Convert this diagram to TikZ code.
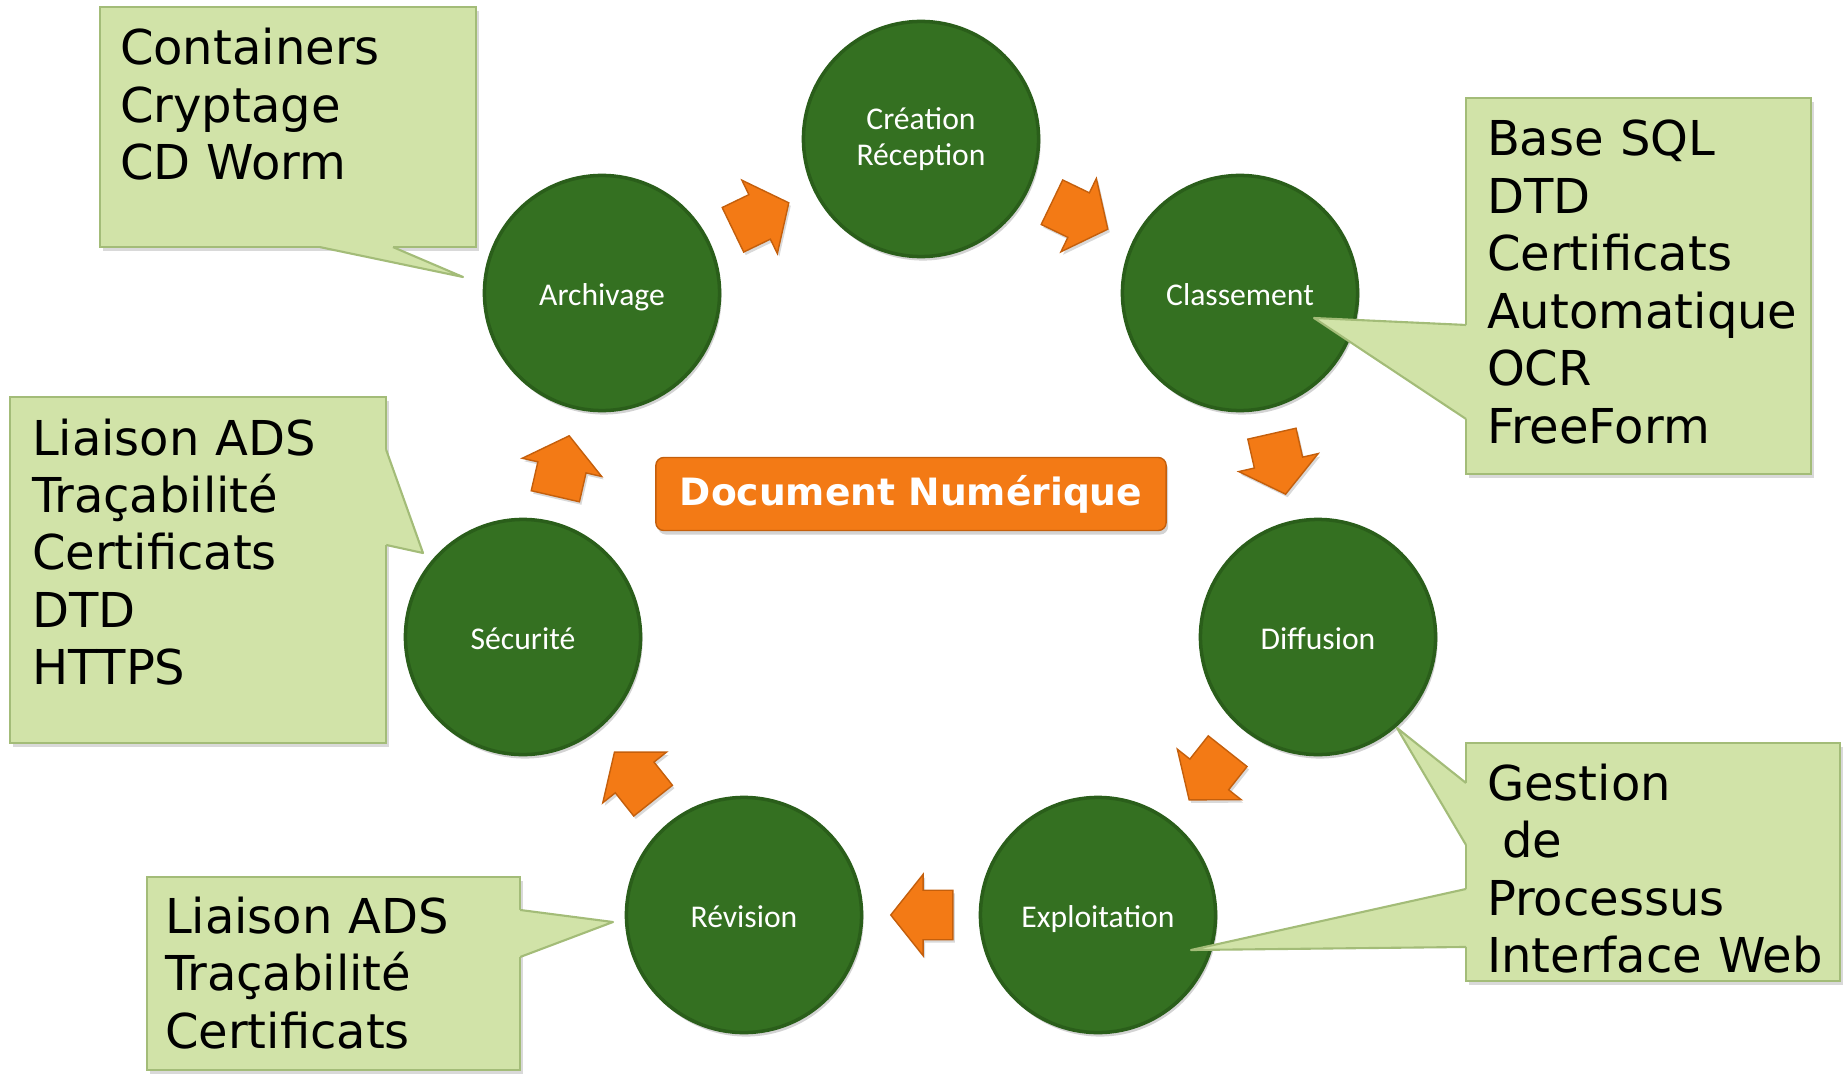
\documentclass[tikz,border=0pt]{standalone}
\usepackage{fontspec}
\setmainfont{DejaVu Sans}
\newfontfamily\Calib{Carlito}
\usepackage{tikz}
\usetikzlibrary{shapes,arrows,fit,positioning,shadows,calc}
\definecolor{leaf}{HTML}{347021}
\definecolor{leafrim}{HTML}{2A5E1A}
\definecolor{note}{HTML}{D1E3A8}
\definecolor{noterim}{HTML}{A3BC78}
\definecolor{orng}{HTML}{F37A15}
\definecolor{orngrim}{HTML}{C45F0C}
\hfuzz=40pt

\begin{document}
\begin{tikzpicture}[% one unit = one pixel of the sketch, y runs downwards
			x=0.01cm,y=-0.01cm,
			stage/.style={circle,fill=leaf,draw=leafrim,line width=1pt,
				minimum size=2.35cm,inner sep=0pt,
				text=white,align=center,		% so that "\\" breaks the line
				text height=0.32cm,text depth=0.08cm,
				font=\Calib\fontsize{9pt}{10.4pt}\selectfont,
				drop shadow={shadow xshift=0.02cm,shadow yshift=-0.04cm,opacity=.35}},
			flow/.style={single arrow,fill=orng,draw=orngrim,line width=0.4pt,
				minimum height=0.62cm,inner xsep=0pt,inner ysep=0.24cm,
				single arrow head extend=0.16cm,single arrow tip angle=103,
				sloped,allow upside down,		% keep the tip on the way round
				pos=0.77,anchor=tip,
				drop shadow={shadow xshift=0.02cm,shadow yshift=-0.03cm,opacity=.3}},
			title/.style={rectangle,rounded corners=0.08cm,fill=orng,draw=orngrim,
				minimum width=5.1cm,minimum height=0.73cm,text=white,
				font=\bfseries\fontsize{10.7pt}{12pt}\selectfont,
				drop shadow={shadow xshift=0.02cm,shadow yshift=-0.04cm,opacity=.35}},
			notebox/.style={rectangle,fill=note,draw=noterim,line width=0.6pt,
				anchor=base west,align=left,inner ysep=0pt,outer sep=0pt,
				font=\fontsize{13.66pt}{16.35pt}\selectfont,
				drop shadow={shadow xshift=0.03cm,shadow yshift=-0.04cm,opacity=.3}},
			wedgeside/.style={draw=noterim,line width=0.6pt,line join=round}
		]
		\useasboundingbox (0,0) rectangle (1843,1073);

		% the cycle
		\node[stage,text height=,text depth=](crea) at (921,139) {Création\\Réception};
		\node[stage](clas) at (1240,293) {Classement};
		\node[stage](diff) at (1318,637) {Diffusion};
		\node[stage](expl) at (1098,915) {Exploitation};
		\node[stage](revi) at (744,915) {Révision};
		\node[stage](secu) at (523,637) {Sécurité};
		\node[stage](arch) at (602,293) {Archivage};
		\path
		(arch) -- node[flow] {} (crea)
		(crea) -- node[flow] {} (clas)
		(clas) -- node[flow] {} (diff)
		(diff) -- node[flow] {} (expl)
		(expl) -- node[flow] {} (revi)
		(revi) -- node[flow] {} (secu)
		(secu) -- node[flow] {} (arch)
		;
		\node[title](docnum) at (911,494) {Document Numérique};

		% the notes
		\node[notebox,text width=3.36cm,inner xsep=0.2cm,text height=0.58cm,text depth=1.82cm]
			(noteArch) at (100,65) {Containers\\Cryptage\\CD~Worm};
		\node[notebox,text width=3.03cm,inner xsep=0.21cm,text height=0.58cm,text depth=3.18cm]
			(noteClas) at (1466,156) {Base~SQL\\DTD\\Certificats\\Automatique\\OCR\\FreeForm};
		\node[notebox,text width=3.32cm,inner xsep=0.22cm,text height=0.58cm,text depth=2.88cm]
			(noteSecu) at (10,455) {Liaison~ADS\\Traçabilité\\Certificats\\DTD\\HTTPS};
		\node[notebox,text width=3.37cm,inner xsep=0.18cm,text height=0.56cm,text depth=1.37cm]
			(noteRevi) at (147,933) {Liaison~ADS\\Traçabilité\\Certificats};
		\node[notebox,text width=3.32cm,inner xsep=0.21cm,text height=0.57cm,text depth=1.81cm]
			(noteGest) at (1466,800) {Gestion\\\hspace*{0.32em}de\\Processus\\Interface~Web};

		% where the notes point
		\coordinate (pArch) at (463,277);
		\coordinate (pClas) at (1314,318);
		\coordinate (pSecu) at (423,553);
		\coordinate (pRevi) at (613,922);
		\coordinate (pDiff) at (1397,728);
		\coordinate (pExpl) at (1191,950);

		\fill[note] ($(noteArch.south west)+(220,-3)$) -- ++(0,3) -- (pArch) -- ($(noteArch.south west)+(293,0)$) -- ++(0,-3) -- cycle;
		\draw[wedgeside] ($(noteArch.south west)+(220,0)$) -- (pArch) -- ($(noteArch.south west)+(293,0)$);
		\fill[note] ($(noteClas.north west)+(3,227)$) -- ++(-3,0) -- (pClas) -- ($(noteClas.north west)+(0,321)$) -- ++(3,0) -- cycle;
		\draw[wedgeside] ($(noteClas.north west)+(0,227)$) -- (pClas) -- ($(noteClas.north west)+(0,321)$);
		\fill[note] ($(noteSecu.north east)+(-3,53)$) -- ++(3,0) -- (pSecu) -- ($(noteSecu.north east)+(0,148)$) -- ++(-3,0) -- cycle;
		\draw[wedgeside] ($(noteSecu.north east)+(0,53)$) -- (pSecu) -- ($(noteSecu.north east)+(0,148)$);
		\fill[note] ($(noteRevi.north east)+(-3,33)$) -- ++(3,0) -- (pRevi) -- ($(noteRevi.north east)+(0,80)$) -- ++(-3,0) -- cycle;
		\draw[wedgeside] ($(noteRevi.north east)+(0,33)$) -- (pRevi) -- ($(noteRevi.north east)+(0,80)$);
		\fill[note] ($(noteGest.north west)+(3,40)$) -- ++(-3,0) -- (pDiff) -- ($(noteGest.north west)+(0,102)$) -- ++(3,0) -- cycle;
		\draw[wedgeside] ($(noteGest.north west)+(0,40)$) -- (pDiff) -- ($(noteGest.north west)+(0,102)$);
		\fill[note] ($(noteGest.north west)+(3,146)$) -- ++(-3,0) -- (pExpl) -- ($(noteGest.north west)+(0,204)$) -- ++(3,0) -- cycle;
		\draw[wedgeside] ($(noteGest.north west)+(0,146)$) -- (pExpl) -- ($(noteGest.north west)+(0,204)$);
	\end{tikzpicture}
\end{document}
